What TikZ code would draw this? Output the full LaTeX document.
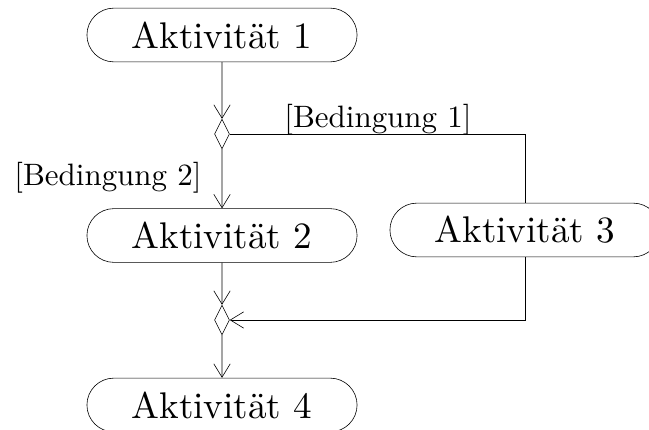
\documentclass[tikz,border=0pt]{standalone}
\usepackage{fontspec}
\usepackage{tikz}
\usetikzlibrary{arrows.meta,shapes.geometric,shapes.misc}
\newfontfamily\cmten{lmroman10-regular}[Extension=.otf]

\begin{document}
\begin{tikzpicture}[x=0.67pt,y=0.67pt,>={Straight Barb[length=9pt,width=11pt]},
  activity/.style={draw,rounded rectangle,minimum width=181pt,minimum height=36pt,
    inner sep=0pt,font=\cmten\fontsize{24.88}{30}\selectfont},
  decision/.style={draw,diamond,minimum width=10pt,minimum height=20pt,inner sep=0pt},
  guard/.style={font=\cmten\fontsize{20.74}{25}\selectfont,inner sep=1pt}]
  \useasboundingbox (0,0) rectangle (649,430);

  \node[activity] (a1) at (222,395) {Aktivität 1};
  \node[decision] (fork) at (222,296) {};
  \node[activity] (a2) at (222,194.5) {Aktivität 2};
  \node[activity] (a3) at (525,200) {Aktivität 3};
  \node[decision] (merge) at (222,110) {};
  \node[activity] (a4) at (222,25) {Aktivität 4};

  \node[guard] (g1) at (378,310) {[Bedingung 1]};
  \node[guard] (g2) at (108,252) {[Bedingung 2]};

  \draw[->] (a1) -- (fork);
  \draw[->] (fork) -- (a2);
  \draw (fork.east) -| (a3.north);
  \draw[->] (a2) -- (merge);
  \draw[->] (a3.south) |- (merge.east);
  \draw[->] (merge) -- (a4);
\end{tikzpicture}
\end{document}
